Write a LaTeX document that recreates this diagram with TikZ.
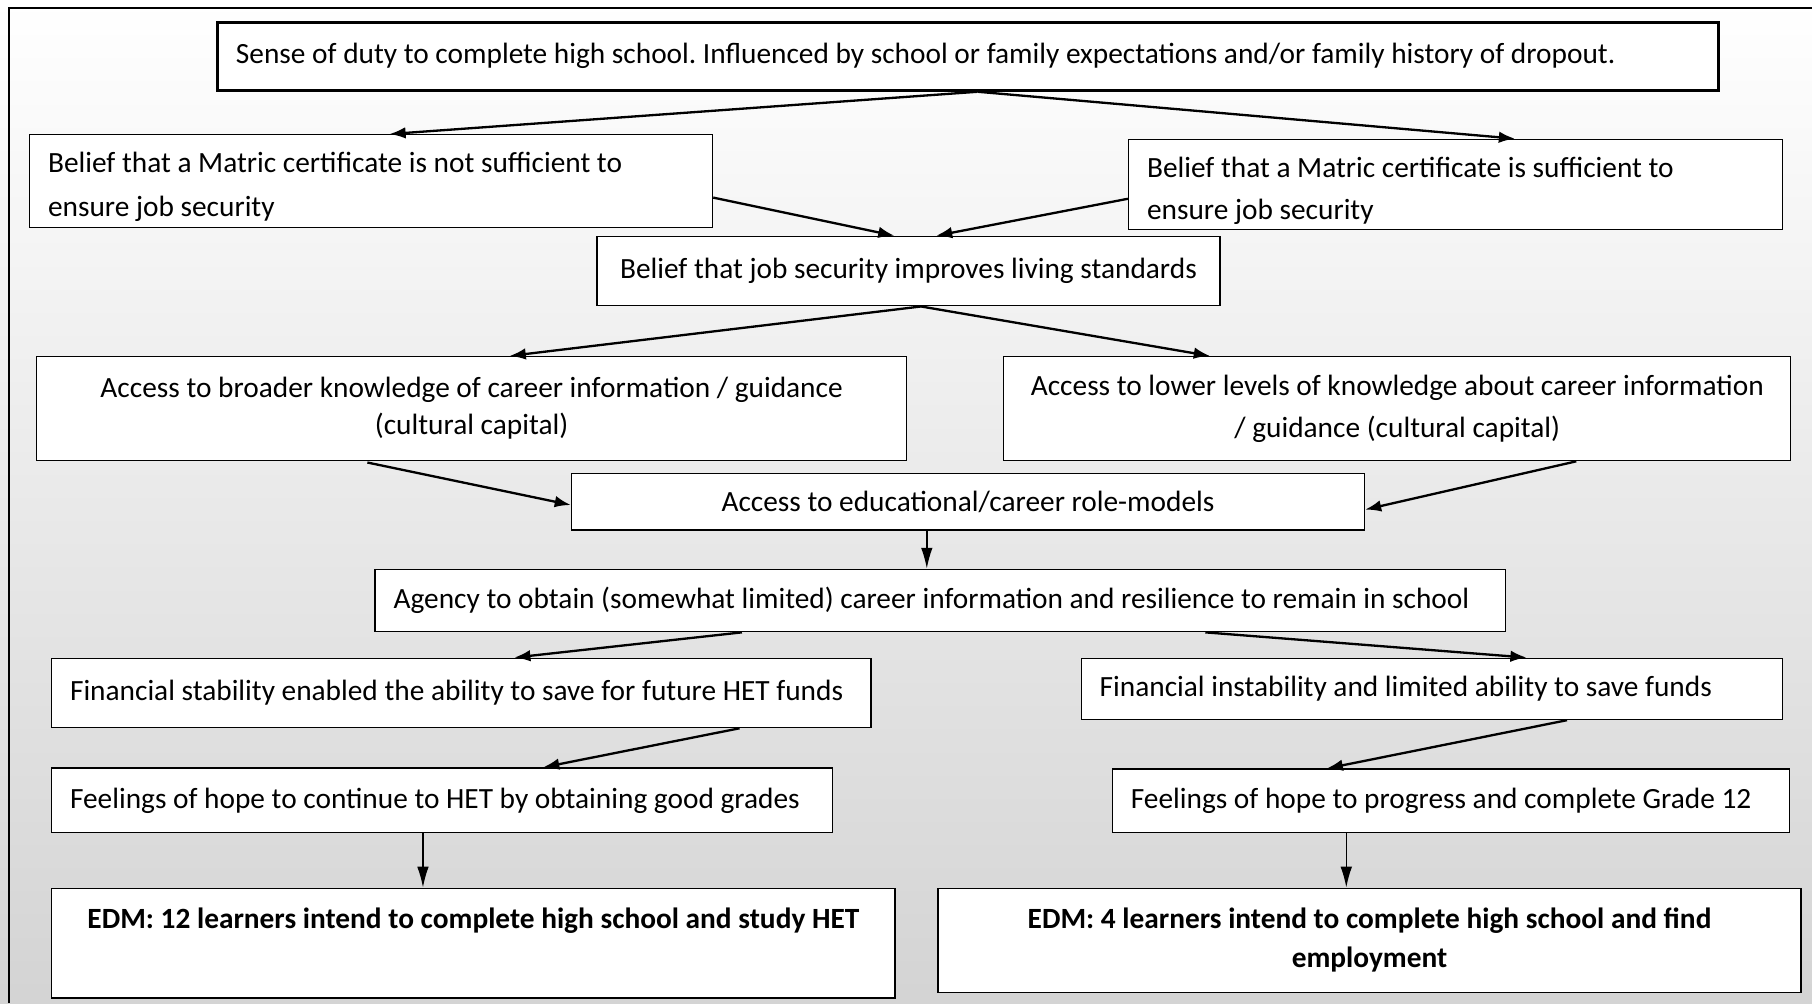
\documentclass[tikz,border=0pt]{standalone}
\usepackage{fontspec}
\setmainfont{Carlito}
\usepackage{tikz}
\usepackage{xcolor}
\usetikzlibrary{arrows.meta,positioning,calc}
\definecolor{pagebot}{gray}{0.83}
\frenchspacing

\tikzset{
  box/.style={draw=black,fill=white,line width=0.6pt,anchor=north west,
    inner xsep=9pt,inner ysep=0pt,font=\fontsize{12.7}{17}\selectfont},
  lbox/.style={box,align=flush left,inner xsep=8pt},
  cbox/.style={box,align=center},
  arr/.style={-{Latex[length=7pt,width=5pt]},line width=1pt},
  varr/.style={-{Latex[length=9pt,width=5pt]},line width=0.6pt}
}

\begin{document}
\begin{tikzpicture}[x=0.5pt,y=-0.5pt]
\useasboundingbox (0,0) rectangle (1568,868);
\shade[top color=white,bottom color=pagebot] (0,0) rectangle (1568,868);
\draw[line width=1pt] (8,868) -- (8,7) -- (1568,7);

\node[lbox,line width=1.2pt,text width=633.5pt,minimum height=29.5pt] (duty) at (187,18)
  {Sense of duty to complete high school. Influenced by school or family expectations and/or family history of dropout.};
\node[lbox,text width=279.5pt,text height=16.5pt,text depth=23.5pt,font=\fontsize{12.7}{19}\selectfont] (notsuff) at (25,116)
  {Belief that a Matric certificate is not sufficient to\\ensure job security};
\node[lbox,text width=267pt,text height=16.5pt,text depth=22.5pt,font=\fontsize{12.7}{18}\selectfont] (suff) at (976,120)
  {Belief that a Matric certificate is sufficient to\\ensure job security};
\node[cbox,minimum width=269.5pt,minimum height=30pt] (living) at (516,204)
  {Belief that job security improves living standards};
\node[cbox,minimum width=376.5pt,minimum height=45pt,font=\fontsize{12.7}{16}\selectfont] (broad) at (31,308)
  {Access to broader knowledge of career information / guidance\\(cultural capital)};
\node[cbox,minimum width=340.5pt,minimum height=45pt,font=\fontsize{12.7}{18}\selectfont] (lower) at (868,308)
  {Access to lower levels of knowledge about career information\\/ guidance (cultural capital)};
\node[cbox,minimum width=343pt,minimum height=24.5pt] (role) at (494,409)
  {Access to educational/career role-models};
\node[lbox,text width=473pt,minimum height=27pt] (agency) at (324,492)
  {Agency to obtain (somewhat limited) career information and resilience to remain in school};
\node[lbox,text width=338.5pt,minimum height=30pt] (stable) at (44,569)
  {Financial stability enabled the ability to save for future HET funds};
\node[lbox,text width=287.5pt,minimum height=26.5pt] (unstable) at (935,569)
  {Financial instability and limited ability to save funds};
\node[lbox,text width=322pt,minimum height=28pt] (hopehet) at (44,664)
  {Feelings of hope to continue to HET by obtaining good grades};
\node[lbox,text width=277pt,minimum height=27.5pt] (hopegr) at (962,665)
  {Feelings of hope to progress and complete Grade 12};
\node[cbox,minimum width=365pt,inner ysep=4pt,text height=13.5pt,text depth=26pt,font=\fontsize{12.7}{17}\selectfont\bfseries] (edmhet) at (44,768)
  {EDM: 12 learners intend to complete high school and study HET};
\node[cbox,minimum width=373.5pt,minimum height=45pt,font=\fontsize{12.7}{17}\selectfont\bfseries] (edmjob) at (811,768)
  {EDM: 4 learners intend to complete high school and find\\employment};

\draw[arr] (846,0 |- duty.south) -- (337,0 |- notsuff.north);
\draw[arr] (846,0 |- duty.south) -- (1311,0 |- suff.north);
\draw[arr] (notsuff.east |- 0,171) -- (774,0 |- living.north);
\draw[arr] (suff.west |- 0,172) -- (810,0 |- living.north);
\draw[arr] (797,0 |- living.south) -- (441,0 |- broad.north);
\draw[arr] (797,0 |- living.south) -- (1047,0 |- lower.north);
\draw[arr,shorten <=2.5pt] (313,0 |- broad.south) -- (role.west |- 0,437);
\draw[arr] (1364,0 |- lower.south) -- (role.east |- 0,441);
\draw[varr] (802,0 |- role.south) -- (802,0 |- agency.north);
\draw[arr] (642,0 |- agency.south) -- (445,0 |- stable.north);
\draw[arr] (1043,0 |- agency.south) -- (1321,0 |- unstable.north);
\draw[arr] (640,0 |- stable.south) -- (470,0 |- hopehet.north);
\draw[arr] (1356,0 |- unstable.south) -- (1148,0 |- hopegr.north);
\draw[varr] (366,0 |- hopehet.south) -- (366,0 |- edmhet.north);
\draw[varr] (1165,0 |- hopegr.south) -- (1165,0 |- edmjob.north);
\end{tikzpicture}
\end{document}
